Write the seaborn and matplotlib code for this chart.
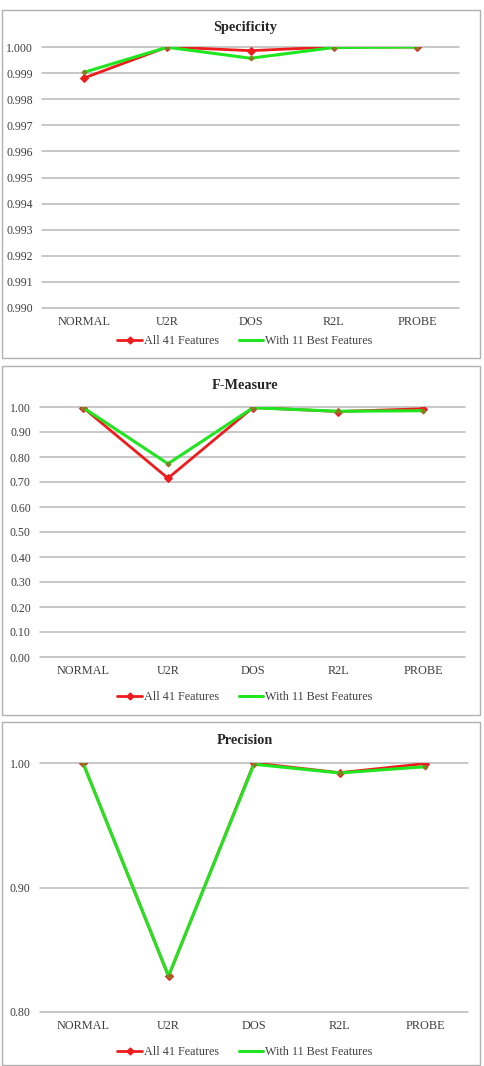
import matplotlib
matplotlib.use("Agg")
import matplotlib.pyplot as plt
import seaborn as sns
import pandas as pd
from matplotlib.patches import Rectangle
from matplotlib.lines import Line2D

categories = ["NORMAL", "U2R", "DOS", "R2L", "PROBE"]
series_names = ["All 41 Features", "With 11 Best Features"]

spec_all41 = [0.99881, 1.00000, 0.99986, 1.00000, 1.00000]
spec_best11 = [0.99903, 0.99999, 0.99957, 0.99998, 1.00000]
spec_ticks = [0.990, 0.991, 0.992, 0.993, 0.994, 0.995, 0.996, 0.997, 0.998, 0.999, 1.000]

fm_all41 = [0.998, 0.715, 0.998, 0.982, 0.993]
fm_best11 = [0.998, 0.773, 0.997, 0.983, 0.985]
fm_ticks = [0.00, 0.10, 0.20, 0.30, 0.40, 0.50, 0.60, 0.70, 0.80, 0.90, 1.00]

prec_all41 = [1.000, 0.8286, 1.000, 0.9922, 0.9995]
prec_best11 = [1.000, 0.8290, 0.999, 0.9920, 0.9970]
prec_ticks = [0.80, 0.90, 1.00]

sns.set_theme(style="white")
plt.rcParams["font.family"] = ["Liberation Serif", "DejaVu Serif"]

W, H = 485, 1066
fig = plt.figure(figsize=(W / 100, H / 100), dpi=100)

RED = "#ee1c1c"
GREEN = "#1fe61f"
TXT = "#404040"


def px_axes(left, right, top, bottom):
    return fig.add_axes([left / W, 1 - bottom / H, (right - left) / W, (bottom - top) / H])


def border(top, bottom):
    fig.patches.append(Rectangle((2 / W, 1 - bottom / H), 478 / W, (bottom - top) / H,
                                 transform=fig.transFigure, fill=False,
                                 edgecolor="#b0b0b0", linewidth=1.0))


def panel(ax, title, all41, best11, ticks, fmt, title_y, legend_y):
    df = pd.DataFrame({
        "category": categories * 2,
        "value": all41 + best11,
        "series": [series_names[0]] * 5 + [series_names[1]] * 5,
    })
    sns.lineplot(data=df[df.series == series_names[0]], x="category", y="value",
                 color=RED, lw=2.0, marker="D", markersize=4.5,
                 markeredgecolor=RED, ax=ax, legend=False, sort=False)
    sns.lineplot(data=df[df.series == series_names[1]], x="category", y="value",
                 color=GREEN, lw=2.2, marker="D", markersize=2.5,
                 markeredgecolor="#8a7a20", markerfacecolor="#8a7a20",
                 ax=ax, legend=False, sort=False)
    ax.set_xlim(-0.5, 4.5)
    ax.set_ylim(ticks[0], ticks[-1])
    ax.set_yticks(ticks)
    ax.set_yticklabels([fmt.format(t) for t in ticks], fontsize=8.6, color=TXT)
    ax.set_xticks(range(len(categories)))
    ax.set_xticklabels(categories, fontsize=8.8, color=TXT)
    ax.tick_params(axis="y", length=0, pad=7)
    ax.tick_params(axis="x", length=0, pad=6)
    ax.set_xlabel("")
    ax.set_ylabel("")
    ax.grid(axis="y", color="#b8b8b8", linewidth=1.1)
    ax.grid(axis="x", visible=False)
    for gl in ax.get_ygridlines():
        gl.set_clip_on(False)
    ax.set_axisbelow(True)
    for s in ax.spines.values():
        s.set_visible(False)
    fig.text(245 / W, 1 - title_y / H, title, ha="center", va="center",
             fontsize=10.3, fontweight="bold", color="#262626")
    handles = [Line2D([], [], color=RED, lw=2.0, marker="D", markersize=3.5),
               Line2D([], [], color=GREEN, lw=2.2)]
    fig.legend(handles, series_names, loc="center", ncol=2, frameon=False,
               bbox_to_anchor=(245 / W, 1 - legend_y / H), fontsize=8.7,
               handlelength=2.0, handletextpad=0.2, columnspacing=1.6,
               labelcolor=TXT)


border(10, 358)
border(366, 715)
border(722, 1065)

ax1 = px_axes(42.4, 458.6, 47, 308)
panel(ax1, "Specificity", spec_all41, spec_best11, spec_ticks, "{:.3f}", 27, 341)

ax2 = px_axes(40.5, 465.5, 407, 657)
panel(ax2, "F-Measure", fm_all41, fm_best11, fm_ticks, "{:.2f}", 385, 697)

ax3 = px_axes(40.3, 467.8, 763, 1012)
panel(ax3, "Precision", prec_all41, prec_best11, prec_ticks, "{:.2f}", 741, 1052)

fig.savefig("out.png", dpi=100, facecolor="white")
